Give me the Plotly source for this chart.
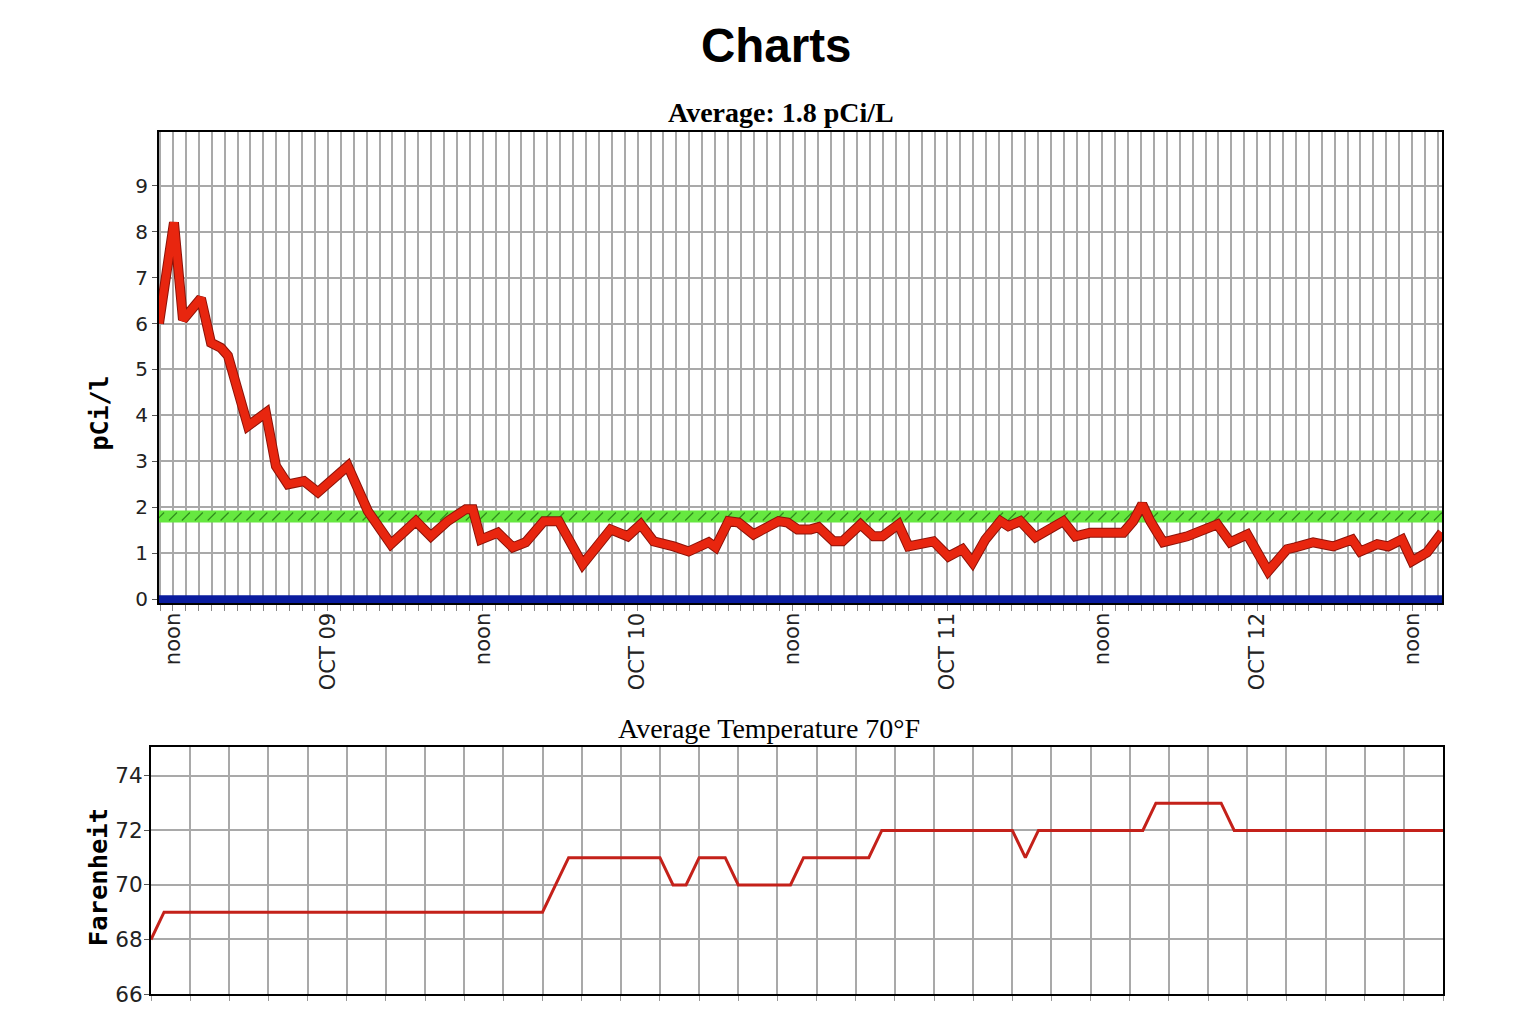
import pandas as pd
import plotly.graph_objects as go

# ---------------- data ----------------
radon_start = "2008-10-08 10:55"
radon_hours = [0.0, 1.16, 1.86, 3.25, 4.03, 4.8, 5.34, 6.19, 6.89, 8.28, 9.06, 9.99,
               11.23, 12.31, 14.63, 16.18, 17.96, 19.9, 21.06, 22.37, 23.77, 24.31,
               24.93, 26.24, 27.41, 28.41, 29.81, 30.97, 32.82, 34.99, 36.31, 37.32,
               38.32, 39.87, 41.03, 42.58, 43.12, 44.13, 44.9, 46.06, 48.0, 48.7,
               49.47, 50.48, 51.1, 52.26, 52.95, 54.35, 55.35, 56.05, 57.29, 58.06,
               59.53, 60.0, 61.16, 62.24, 63.02, 64.02, 65.19, 65.8, 66.73, 67.9,
               70.06, 70.99, 72.15, 74.71, 75.48, 76.18, 76.8, 77.8, 79.66, 80.05,
               80.9, 81.99, 82.99, 84.31, 85.93, 87.4, 88.02, 89.42, 90.97, 92.44,
               93.06, 94.38, 95.22, 96.3, 97.08, 98.24, 99.4]
radon_values = [6.0, 8.2, 6.08, 6.55, 5.58, 5.47, 5.3, 4.5, 3.77, 4.06, 2.9, 2.5,
                2.57, 2.33, 2.9, 1.92, 1.2, 1.7, 1.37, 1.7, 1.96, 1.96,
                1.3, 1.45, 1.13, 1.24, 1.7, 1.7, 0.76, 1.52, 1.37, 1.63,
                1.26, 1.15, 1.04, 1.24, 1.13, 1.7, 1.67, 1.41, 1.7, 1.67,
                1.52, 1.52, 1.57, 1.26, 1.26, 1.63, 1.37, 1.37, 1.63, 1.15,
                1.24, 1.26, 0.93, 1.09, 0.8, 1.3, 1.7, 1.59, 1.7, 1.35,
                1.7, 1.37, 1.45, 1.45, 1.7, 2.07, 1.7, 1.24, 1.37, 1.41,
                1.48, 1.63, 1.24, 1.41, 0.61, 1.09, 1.13, 1.24, 1.15, 1.3,
                1.04, 1.2, 1.15, 1.3, 0.83, 1.02, 1.45]
radon_average = 1.8

radon_tickvals = ["2008-10-08 12:00", "2008-10-09 00:00", "2008-10-09 12:00",
                  "2008-10-10 00:00", "2008-10-10 12:00", "2008-10-11 00:00",
                  "2008-10-11 12:00", "2008-10-12 00:00", "2008-10-12 12:00"]
radon_ticktext = ["noon", "OCT 09", "noon", "OCT 10", "noon", "OCT 11",
                  "noon", "OCT 12", "noon"]
radon_yticks = [0, 1, 2, 3, 4, 5, 6, 7, 8, 9]

temp_hours = list(range(100))
temp_values = [68,
               69, 69, 69, 69, 69, 69, 69, 69, 69, 69,
               69, 69, 69, 69, 69, 69, 69, 69, 69, 69,
               69, 69, 69, 69, 69, 69, 69, 69, 69, 69,
               70,
               71, 71, 71, 71, 71, 71, 71, 71,
               70, 70,
               71, 71, 71,
               70, 70, 70, 70, 70,
               71, 71, 71, 71, 71, 71,
               72, 72, 72, 72, 72, 72, 72, 72, 72, 72, 72,
               71,
               72, 72, 72, 72, 72, 72, 72, 72, 72,
               73, 73, 73, 73, 73, 73,
               72, 72, 72, 72, 72, 72, 72, 72, 72, 72, 72, 72, 72, 72, 72, 72, 72]
temp_yticks = [66, 68, 70, 72, 74]
temp_average = 70

# ---------------- figure ----------------
W, H = 1518, 1028
H_EFF = 1016  # effective vertical extent observed in the rendered page
t0 = pd.Timestamp(radon_start)
radon_x = [t0 + pd.Timedelta(hours=h) for h in radon_hours]
x_end = radon_x[-1]
hour_marks = pd.date_range("2008-10-08 11:00", "2008-10-12 14:00", freq="1h")

def px_x(p):
    return p / W

def px_y(p):
    return 1 - p / H_EFF

fig = go.Figure()

# baseline (blue) at zero
fig.add_trace(go.Scatter(x=[t0, x_end], y=[0, 0], mode="lines",
                         line=dict(color="#0a1c9e", width=8),
                         hoverinfo="skip", showlegend=False, xaxis="x", yaxis="y"))
# average band (green) with hatch
fig.add_trace(go.Scatter(x=[t0, x_end], y=[radon_average, radon_average], mode="lines",
                         line=dict(color="#66e840", width=12),
                         hoverinfo="skip", showlegend=False, xaxis="x", yaxis="y"))
fig.add_trace(go.Scatter(x=hour_marks, y=[radon_average] * len(hour_marks), mode="markers",
                         marker=dict(symbol="line-ne", size=8,
                                     line=dict(color="#2f8a1c", width=1.2)),
                         hoverinfo="skip", showlegend=False, xaxis="x", yaxis="y"))
# radon line: dark shadow + red ribbon
fig.add_trace(go.Scatter(x=radon_x, y=radon_values, mode="lines",
                         line=dict(color="#8c1208", width=10),
                         hoverinfo="skip", showlegend=False, xaxis="x", yaxis="y"))
fig.add_trace(go.Scatter(x=radon_x, y=radon_values, mode="lines",
                         line=dict(color="#e8260f", width=8),
                         showlegend=False, xaxis="x", yaxis="y"))

# temperature line
fig.add_trace(go.Scatter(x=temp_hours, y=temp_values, mode="lines",
                         line=dict(color="#c4211a", width=3),
                         showlegend=False, xaxis="x2", yaxis="y2"))

grid_col = "#a9a9a9"

fig.update_layout(
    width=W, height=H,
    margin=dict(l=0, r=0, t=0, b=0),
    paper_bgcolor="white", plot_bgcolor="white",
    xaxis=dict(
        domain=[px_x(159), px_x(1442)],
        type="date",
        range=[t0, x_end],
        tickmode="array", tickvals=radon_tickvals, ticktext=radon_ticktext,
        tickangle=-90, tickfont=dict(family="DejaVu Sans", size=21, color="#222222"),
        ticks="outside", ticklen=6, tickcolor="#888888",
        ticklabelstandoff=-7,
        showgrid=True, gridcolor=grid_col, gridwidth=2,
        minor=dict(dtick=3600000, tick0="2008-10-08 00:00", showgrid=True,
                   gridcolor=grid_col, gridwidth=2, ticks="outside", ticklen=6,
                   tickcolor="#888888"),
        showline=True, linecolor="black", linewidth=2, mirror=True,
        zeroline=False, anchor="y",
    ),
    yaxis=dict(
        domain=[px_y(604), px_y(132)],
        range=[-0.09, 10.17],
        tickmode="array", tickvals=radon_yticks,
        tickfont=dict(family="DejaVu Sans", size=20, color="#222222"),
        ticks="outside", ticklen=5, tickcolor="#555555",
        showgrid=True, gridcolor=grid_col, gridwidth=2,
        showline=True, linecolor="black", linewidth=2, mirror=True,
        zeroline=False, anchor="x",
    ),
    xaxis2=dict(
        domain=[px_x(151), px_x(1443)],
        range=[0, 99],
        tickmode="linear", tick0=0, dtick=3,
        showticklabels=False,
        ticks="outside", ticklen=5, tickcolor="#999999",
        showgrid=True, gridcolor=grid_col, gridwidth=2,
        showline=True, linecolor="black", linewidth=2, mirror=True,
        zeroline=False, anchor="y2",
    ),
    yaxis2=dict(
        domain=[px_y(995), px_y(748)],
        range=[66, 75.05],
        tickmode="array", tickvals=temp_yticks,
        tickfont=dict(family="DejaVu Sans", size=21.5, color="#222222"),
        ticks="outside", ticklen=5, tickcolor="#555555",
        ticklabelstandoff=-3,
        showgrid=True, gridcolor=grid_col, gridwidth=2,
        showline=True, linecolor="black", linewidth=2, mirror=True,
        zeroline=False, anchor="x2",
    ),
    annotations=[
        dict(text="<b>Charts</b>", x=px_x(776), y=px_y(46), xref="paper", yref="paper",
             showarrow=False, xanchor="center", yanchor="middle",
             font=dict(family="Liberation Sans", size=47.5, color="black")),
        dict(text="<b>Average: %s pCi/L</b>" % radon_average, x=px_x(781), y=px_y(113),
             xref="paper", yref="paper", showarrow=False, xanchor="center", yanchor="middle",
             font=dict(family="Liberation Serif", size=28, color="black")),
        dict(text="Average Temperature %d°F" % temp_average, x=px_x(769), y=px_y(729),
             xref="paper", yref="paper", showarrow=False, xanchor="center", yanchor="middle",
             font=dict(family="Liberation Serif", size=28, color="black")),
        dict(text="<b>pCi/l</b>", x=px_x(100), y=px_y(414), xref="paper", yref="paper",
             showarrow=False, xanchor="center", yanchor="middle", textangle=-90,
             font=dict(family="DejaVu Sans Mono", size=25, color="black")),
        dict(text="<b>Farenheit</b>", x=px_x(98), y=px_y(878), xref="paper", yref="paper",
             showarrow=False, xanchor="center", yanchor="middle", textangle=-90,
             font=dict(family="DejaVu Sans Mono", size=25.5, color="black")),
    ],
)

fig.write_html("out.html")
